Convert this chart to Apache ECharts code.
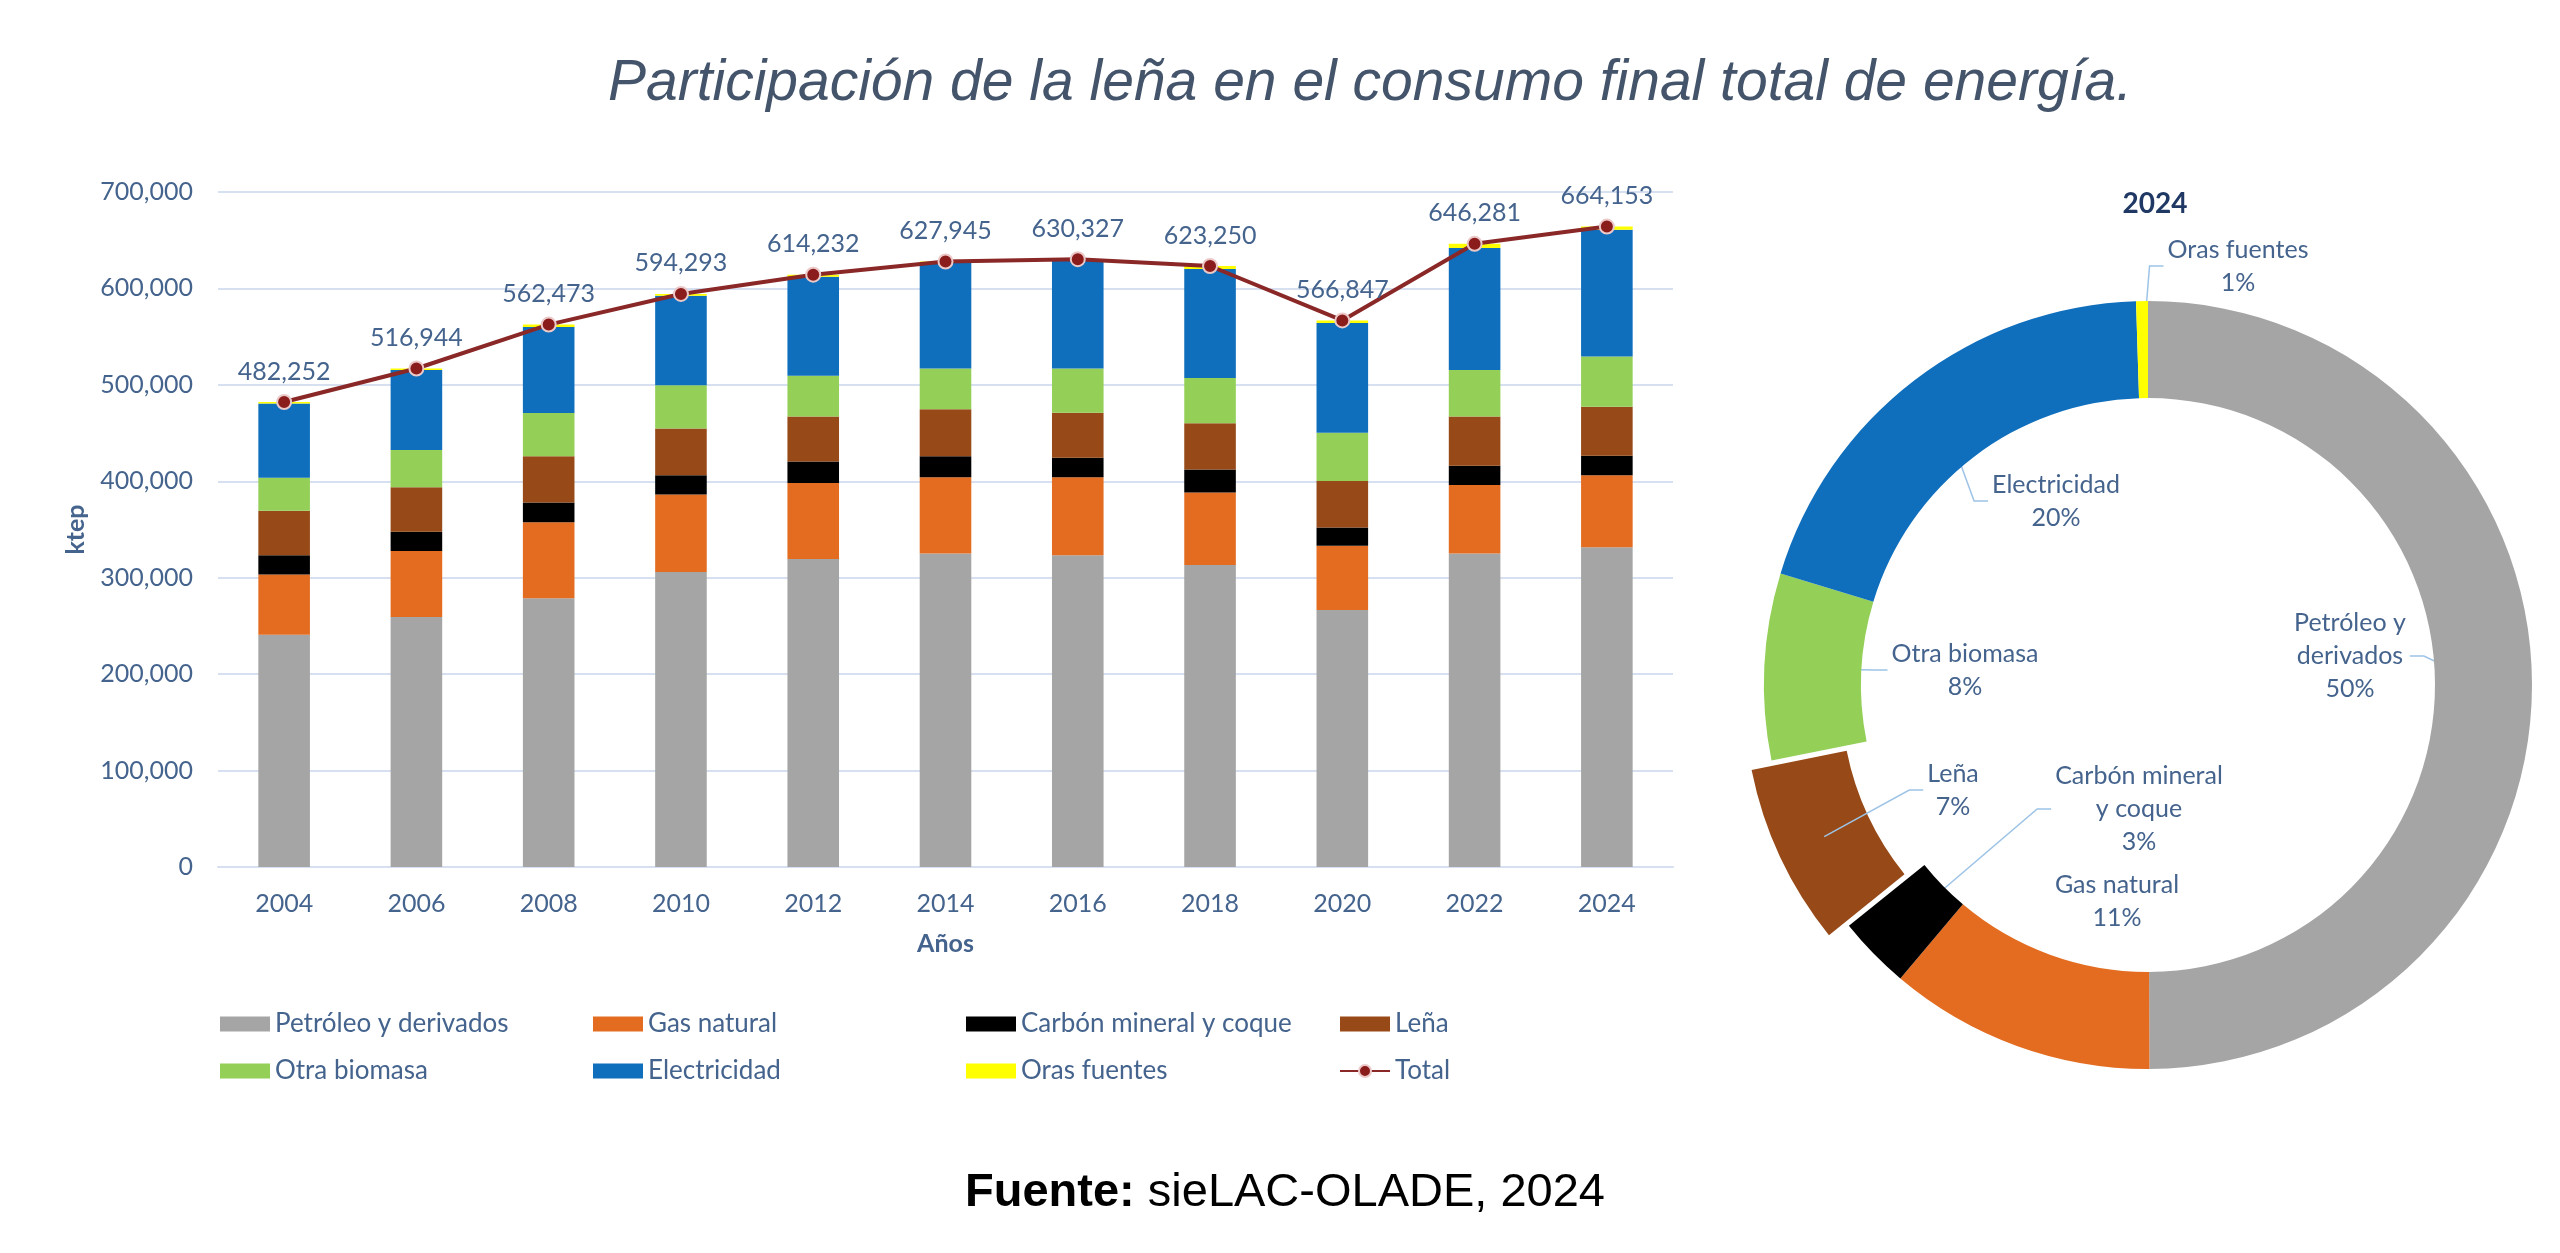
<!DOCTYPE html>
<html lang="es">
<head>
    <meta charset="UTF-8">
    <title>Participación de la leña en el consumo final total de energía</title>
    <style type="text/css">
        *{
            margin: 0;
            padding: 0;
        }
        #main{
            width: 2560px;
            height: 1253px;
            background: #ffffff;
        }
    </style>
</head>
<body>
    <div id="main"></div>
    <script src="https://cdn.jsdelivr.net/npm/echarts@6.0.0/dist/echarts.min.js"></script>
    <script type="text/javascript">
        // datos (ktep)
        var years = ['2004', '2006', '2008', '2010', '2012', '2014', '2016', '2018', '2020', '2022', '2024'];
        var petroleo = [240800, 259200, 278600, 305900, 319300, 325200, 323200, 313300, 266600, 325200, 331700];
        var gasNatural = [62600, 68500, 78900, 80400, 78900, 79000, 81000, 75000, 66600, 71000, 74500];
        var carbon = [19800, 19900, 20400, 19900, 22400, 21800, 20300, 23800, 18800, 19900, 20300];
        var lena = [46200, 46100, 48100, 48600, 46600, 48700, 46700, 48200, 48200, 51100, 50700];
        var otraBiomasa = [34300, 38800, 44700, 44700, 42200, 42200, 45700, 46700, 50100, 48200, 52100];
        var electricidad = [76900, 82900, 89400, 92900, 102800, 109500, 112000, 113200, 113800, 126600, 131600];
        var orasFuentes = [1600, 1500, 2400, 1900, 2000, 1500, 1400, 3000, 2700, 4300, 3300];
        var totales = [482252, 516944, 562473, 594293, 614232, 627945, 630327, 623250, 566847, 646281, 664153];

        var fuentes = ['Petróleo y derivados', 'Gas natural', 'Carbón mineral y coque', 'Leña', 'Otra biomasa', 'Electricidad', 'Oras fuentes'];
        var etiquetasDona = ['Petróleo y\nderivados', 'Gas natural', 'Carbón mineral\ny coque', 'Leña', 'Otra biomasa', 'Electricidad', 'Oras fuentes'];
        var porcentajesDona = ['50%', '11%', '3%', '7%', '8%', '20%', '1%'];

        var colores = ['#a5a5a5', '#e36c21', '#000000', '#974a17', '#94cf57', '#0f6fbd', '#ffff00'];
        var azulTexto = '#44638d';
        var fuente = 'Lato, "Open Sans", sans-serif';

        var myChart = echarts.init(document.getElementById('main'));

        var valores = [petroleo, gasNatural, carbon, lena, otraBiomasa, electricidad, orasFuentes];

        // barras apiladas
        var series = valores.map(function (arr, i) {
            return {
                name: fuentes[i],
                type: 'bar',
                stack: 'total',
                barWidth: '39%',
                itemStyle: { color: colores[i] },
                data: arr
            };
        });

        series.push({
            name: 'Total',
            type: 'line',
            data: totales,
            symbol: 'circle',
            symbolSize: 14,
            z: 5,
            lineStyle: { color: '#8a2727', width: 4 },
            itemStyle: { color: '#8a1c1c', borderColor: '#ecc9c9', borderWidth: 2 },
            label: {
                show: true,
                position: 'top',
                distance: 10,
                color: azulTexto,
                fontFamily: fuente,
                fontSize: 25,
                formatter: function (p) {
                    return p.value.toLocaleString('en-US');
                }
            }
        });

        // dona 2024
        var pieCx = 2148, pieCy = 685, pieR0 = 287, pieR1 = 384, desplazamiento = 22;
        var idxLena = 3;
        var ultimo = years.length - 1;
        var datosDona = valores.map(function (arr) { return arr[ultimo]; });
        var sumaDona = datosDona.reduce(function (a, b) { return a + b; }, 0);
        var angulos = [];
        var acum = 0;
        datosDona.forEach(function (v) {
            angulos.push((acum + v / 2) / sumaDona * Math.PI * 2);
            acum += v;
        });
        // posición de cada etiqueta respecto al centro de la dona
        var posEtiquetas = [[202, -29], [-31, 216], [-9, 124], [-195, 105], [-183, -15], [-92, -184], [90, -419]];

        series.push({
            name: '2024',
            type: 'pie',
            center: [pieCx, pieCy],
            radius: [pieR0, pieR1],
            startAngle: 90,
            clockwise: true,
            avoidLabelOverlap: false,
            silent: true,
            label: {
                show: true,
                position: 'outside',
                color: azulTexto,
                fontFamily: fuente,
                fontSize: 25,
                lineHeight: 33,
                align: 'center',
                formatter: function (p) {
                    return etiquetasDona[p.dataIndex] + '\n' + porcentajesDona[p.dataIndex];
                }
            },
            labelLine: {
                show: true,
                lineStyle: { color: '#9dc3e6', width: 1.5 }
            },
            labelLayout: function (p) {
                var i = p.dataIndex;
                var a = angulos[i];
                var rr = (pieR0 + pieR1) / 2 + (i === idxLena ? desplazamiento : 0);
                var px = pieCx + rr * Math.sin(a);
                var py = pieCy - rr * Math.cos(a);
                var lx = pieCx + posEtiquetas[i][0];
                var ly = pieCy + posEtiquetas[i][1];
                var side = px > lx ? 1 : -1;
                var ex = lx + side * (p.labelRect.width / 2 + 4);
                return {
                    x: lx,
                    y: ly,
                    align: 'center',
                    verticalAlign: 'middle',
                    labelLinePoints: [[px, py], [ex + side * 14, ly], [ex, ly]]
                };
            },
            data: datosDona.map(function (v, i) {
                var item = {
                    name: fuentes[i],
                    value: v,
                    itemStyle: { color: i === idxLena ? 'rgba(0,0,0,0)' : colores[i] }
                };
                if (i === 1) item.labelLine = { show: false };
                return item;
            })
        });

        // el sector de leña, desplazado hacia afuera
        series.push({
            name: '2024 leña',
            type: 'pie',
            center: [
                pieCx + desplazamiento * Math.sin(angulos[idxLena]),
                pieCy - desplazamiento * Math.cos(angulos[idxLena])
            ],
            radius: [pieR0, pieR1],
            startAngle: 90,
            clockwise: true,
            silent: true,
            z: 1,
            label: { show: false },
            labelLine: { show: false },
            data: datosDona.map(function (v, i) {
                return {
                    name: fuentes[i],
                    value: v,
                    itemStyle: { color: i === idxLena ? colores[i] : 'rgba(0,0,0,0)' }
                };
            })
        });

        var legendaBase = {
            orient: 'vertical',
            itemWidth: 50,
            itemHeight: 15,
            itemGap: 17,
            selectedMode: false,
            textStyle: { color: azulTexto, fontFamily: fuente, fontSize: 26, lineHeight: 30 }
        };
        var columnas = [
            ['Petróleo y derivados', 'Otra biomasa'],
            ['Gas natural', 'Electricidad'],
            ['Carbón mineral y coque', 'Oras fuentes'],
            ['Leña', 'Total']
        ];
        var colX = [215, 588, 961, 1334];
        var legendas = columnas.map(function (c, i) {
            return Object.assign({}, legendaBase, {
                left: colX[i],
                top: 1004,
                data: c.map(function (n) {
                    return n === 'Total' ? { name: n } : { name: n, icon: 'rect' };
                })
            });
        });

        var option = {
            animation: false,
            backgroundColor: '#ffffff',
            textStyle: { fontFamily: fuente },
            grid: {
                left: 218,
                right: 887,
                top: 192,
                bottom: 386
            },
            legend: legendas,
            xAxis: {
                type: 'category',
                data: years,
                name: 'Años',
                nameLocation: 'middle',
                nameGap: 64,
                nameTextStyle: { color: azulTexto, fontWeight: 'bold', fontSize: 25, fontFamily: fuente },
                axisTick: { show: false },
                axisLine: { lineStyle: { color: '#d6e0f0', width: 2 } },
                axisLabel: { color: azulTexto, fontSize: 25, fontFamily: fuente, margin: 24 }
            },
            yAxis: {
                type: 'value',
                min: 0,
                max: 700000,
                interval: 100000,
                name: 'ktep',
                nameLocation: 'middle',
                nameRotate: 90,
                nameGap: 130,
                nameTextStyle: { color: azulTexto, fontWeight: 'bold', fontSize: 25, fontFamily: fuente },
                axisLine: { show: false },
                axisTick: { show: false },
                splitLine: { lineStyle: { color: '#d6e0f0', width: 2 } },
                axisLabel: {
                    color: azulTexto,
                    fontSize: 25,
                    fontFamily: fuente,
                    margin: 25,
                    formatter: function (v) { return v.toLocaleString('en-US'); }
                }
            },
            graphic: [
                {
                    type: 'text',
                    x: 1370,
                    y: 84,
                    style: {
                        text: 'Participación de la leña en el consumo final total de energía.',
                        fill: '#44546a',
                        fontFamily: '"Liberation Sans", Arial, sans-serif',
                        fontStyle: 'italic',
                        fontSize: 57,
                        align: 'center',
                        verticalAlign: 'middle'
                    }
                },
                {
                    type: 'text',
                    x: 2155,
                    y: 204,
                    style: {
                        text: '2024',
                        fill: '#1f3864',
                        fontFamily: fuente,
                        fontWeight: 'bold',
                        fontSize: 28,
                        align: 'center',
                        verticalAlign: 'middle'
                    }
                },
                {
                    type: 'text',
                    x: 1285,
                    y: 1193,
                    style: {
                        text: '{b|Fuente:} sieLAC-OLADE, 2024',
                        fill: '#000000',
                        fontFamily: '"Liberation Sans", Arial, sans-serif',
                        fontSize: 47,
                        align: 'center',
                        verticalAlign: 'middle',
                        rich: {
                            b: {
                                fontWeight: 'bold',
                                fontSize: 47,
                                fontFamily: '"Liberation Sans", Arial, sans-serif',
                                fill: '#000000'
                            }
                        }
                    }
                }
            ],
            series: series
        };

        myChart.setOption(option);
    </script>
</body>
</html>
